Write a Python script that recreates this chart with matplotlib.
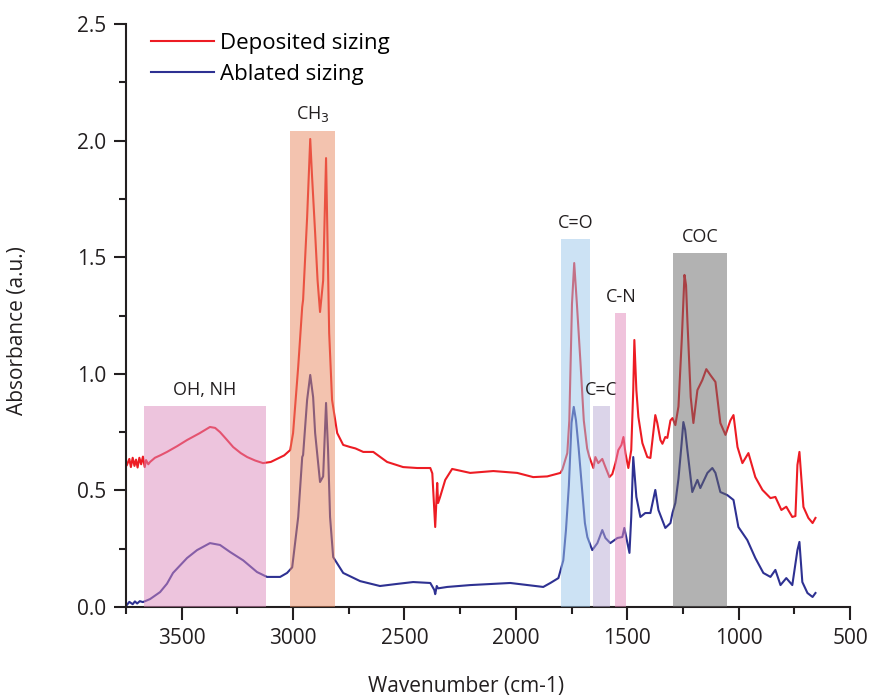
import matplotlib
matplotlib.use("Agg")
import matplotlib.pyplot as plt
from matplotlib.patches import Rectangle

# -------------------- DATA --------------------
dep_wn = [3746, 3735, 3728, 3720, 3712, 3705, 3698, 3690, 3682, 3674, 3666, 3660, 3650, 3642,
          3620, 3597, 3566, 3520, 3476, 3420, 3373, 3350, 3328, 3300, 3269, 3235, 3206,
          3170, 3135, 3100, 3072, 3040, 3013, 3000, 2977, 2959, 2955, 2937, 2923, 2915,
          2901, 2890, 2879, 2865, 2852, 2838, 2825, 2802, 2775, 2744, 2720, 2685, 2640,
          2578, 2506, 2443, 2384, 2375, 2362, 2353, 2349, 2340, 2317, 2286, 2205, 2101,
          1994, 1922, 1859, 1800, 1791, 1769, 1760, 1748, 1738, 1726, 1710, 1695, 1680, 1670,
          1652, 1643, 1630, 1612, 1598, 1580, 1567, 1553, 1540, 1526, 1517, 1508, 1495,
          1482, 1473, 1468, 1459, 1450, 1432, 1410, 1396, 1383, 1374, 1365, 1351, 1342,
          1329, 1320, 1306, 1297, 1284, 1270, 1255, 1243, 1236, 1230, 1215, 1203, 1185, 1163,
          1145, 1127, 1104, 1082, 1059, 1037, 1023, 1005, 983, 956, 925, 893, 857, 835, 808,
          786, 759, 745, 736, 727, 718, 709, 687, 668, 655]
dep_abs = [0.609, 0.635, 0.600, 0.640, 0.605, 0.632, 0.598, 0.640, 0.612, 0.645, 0.600, 0.630, 0.612, 0.622,
           0.640, 0.650, 0.665, 0.690, 0.716, 0.745, 0.772, 0.768, 0.750, 0.720, 0.686, 0.660, 0.643,
           0.628, 0.617, 0.622, 0.635, 0.650, 0.673, 0.746, 1.03, 1.287, 1.317, 1.67, 2.007, 1.85,
           1.604, 1.40, 1.265, 1.40, 1.925, 1.175, 0.888, 0.746, 0.695, 0.686, 0.680, 0.665, 0.665,
           0.622, 0.600, 0.596, 0.596, 0.573, 0.343, 0.532, 0.446, 0.472, 0.545, 0.592, 0.575, 0.583,
           0.575, 0.557, 0.560, 0.575, 0.590, 0.660, 0.80, 1.30, 1.475, 1.30, 1.05, 0.80, 0.68, 0.643,
           0.596, 0.643, 0.617, 0.635, 0.600, 0.557, 0.570, 0.617, 0.673, 0.695, 0.729, 0.660, 0.596,
           0.673, 0.93, 1.145, 0.93, 0.815, 0.703, 0.643, 0.639, 0.746, 0.823, 0.789, 0.716, 0.700,
           0.729, 0.725, 0.800, 0.810, 0.780, 0.860, 1.15, 1.424, 1.38, 1.23, 0.90, 0.789, 0.93, 0.973,
           1.02, 0.995, 0.965, 0.789, 0.738, 0.800, 0.823, 0.686, 0.617, 0.660, 0.557, 0.502, 0.467,
           0.472, 0.416, 0.430, 0.386, 0.390, 0.609, 0.665, 0.550, 0.429, 0.382, 0.360, 0.382]

abl_wn = [3746, 3735, 3720, 3710, 3700, 3688, 3674, 3642, 3597, 3566, 3539, 3476, 3431, 3373,
          3328, 3283, 3224, 3162, 3117, 3058, 3027, 3004, 2977, 2959, 2955, 2937, 2923,
          2910, 2901, 2879, 2865, 2852, 2843, 2834, 2820, 2775, 2699, 2610, 2533, 2461,
          2384, 2366, 2362, 2355, 2349, 2308, 2205, 2025, 1877, 1845, 1809, 1787, 1775,
          1762, 1750, 1740, 1730, 1718, 1704, 1690, 1679, 1657, 1634, 1612, 1598, 1576, 1544, 1522,
          1513, 1499, 1490, 1482, 1473, 1459, 1441, 1419, 1396, 1374, 1360, 1329, 1306,
          1297, 1284, 1270, 1256, 1248, 1240, 1230, 1208, 1185, 1172, 1140, 1118, 1104, 1082, 1051,
          1023, 1001, 961, 925, 889, 857, 835, 812, 786, 759, 736, 727, 714, 691, 668, 655]
abl_abs = [0.009, 0.022, 0.012, 0.024, 0.015, 0.025, 0.021, 0.034, 0.064, 0.100, 0.146, 0.210, 0.244, 0.274,
           0.266, 0.236, 0.200, 0.150, 0.129, 0.129, 0.146, 0.170, 0.386, 0.643, 0.652, 0.888, 0.995,
           0.900, 0.746, 0.536, 0.560, 0.875, 0.673, 0.386, 0.214, 0.146, 0.111, 0.090, 0.099, 0.107,
           0.103, 0.073, 0.055, 0.090, 0.080, 0.086, 0.094, 0.103, 0.086, 0.103, 0.124, 0.200, 0.330,
           0.520, 0.790, 0.858, 0.800, 0.680, 0.520, 0.360, 0.300, 0.244, 0.274, 0.330, 0.296, 0.274, 0.296, 0.300,
           0.339, 0.274, 0.232, 0.386, 0.643, 0.472, 0.386, 0.403, 0.403, 0.502, 0.416, 0.339, 0.360,
           0.403, 0.446, 0.550, 0.700, 0.793, 0.760, 0.673, 0.493, 0.545, 0.510, 0.575, 0.596, 0.575, 0.493, 0.480,
           0.459, 0.343, 0.287, 0.210, 0.146, 0.129, 0.159, 0.094, 0.124, 0.094, 0.244, 0.279, 0.107,
           0.060, 0.043, 0.060]

# band regions: label, low wn, high wn, top, colour
band_labels = ["OH, NH", "CH$_3$", "C=O", "C=C", "C-N", "COC"]
band_lo = [3120, 2811, 1666, 1576, 1504, 1050]
band_hi = [3670, 3013, 1796, 1652, 1553, 1293]
band_top = [0.86, 2.04, 1.58, 0.86, 1.26, 1.52]
band_colors = ["#dd8bbd", "#e98961", "#9bc7eb", "#b9abd5", "#e389bb", "#666666"]

# -------------------- PLOT --------------------
plt.rcParams['font.family'] = ['Open Sans', 'DejaVu Sans']

fig = plt.figure(figsize=(8.7, 6.98), dpi=100)
ax = fig.add_axes([126 / 870, 91 / 698, 724 / 870, 583 / 698])

ax.plot(dep_wn, dep_abs, color="#ed1c24", lw=1.5, label="Deposited sizing", zorder=2)
ax.plot(abl_wn, abl_abs, color="#2e3192", lw=1.5, label="Ablated sizing", zorder=2)

# shaded bands sit on top of the spectra
for lab, lo, hi, top, col in zip(band_labels, band_lo, band_hi, band_top, band_colors):
    ax.add_patch(Rectangle((lo, 0), hi - lo, top, facecolor=col, edgecolor="none",
                           alpha=0.5, zorder=3))
    ax.text((lo + hi) / 2, top + 0.03, lab, ha="center", va="bottom", fontsize=13,
            color="#231f20")

ax.set_xlim(3750, 500)
ax.set_ylim(0, 2.5)
ax.set_xticks([3500, 3000, 2500, 2000, 1500, 1000, 500])
ax.set_xticks([3750, 3250, 2750, 2250, 1750, 1250, 750], minor=True)
ax.set_yticks([0.0, 0.5, 1.0, 1.5, 2.0, 2.5])
ax.set_yticks([0.25, 0.75, 1.25, 1.75, 2.25], minor=True)
ax.set_yticklabels(["0.0", "0.5", "1.0", "1.5", "2.0", "2.5"])

for s in ["top", "right"]:
    ax.spines[s].set_visible(False)
for s in ["left", "bottom"]:
    ax.spines[s].set_linewidth(1.5)
    ax.spines[s].set_color("#231f20")

ax.tick_params(which="major", direction="out", length=9, width=1.5, color="#231f20",
               labelsize=15, labelcolor="#231f20")
ax.tick_params(which="minor", direction="out", length=5, width=1.5, color="#231f20")
ax.tick_params(axis="x", which="major", pad=6)
ax.tick_params(axis="y", which="major", pad=5)

ax.set_xlabel("Wavenumber (cm-1)", fontsize=15, color="#231f20")
ax.set_ylabel("Absorbance (a.u.)", fontsize=15, color="#231f20")
ax.xaxis.set_label_coords(0.47, -0.118)
ax.yaxis.set_label_coords(-0.135, 0.475)

ax.legend(loc="upper left", bbox_to_anchor=(0.035, 0.985), frameon=False, fontsize=16,
          handlelength=2.8, handletextpad=0.3, labelspacing=0.45, borderpad=0,
          borderaxespad=0)

plt.savefig("out.png", dpi=100)
